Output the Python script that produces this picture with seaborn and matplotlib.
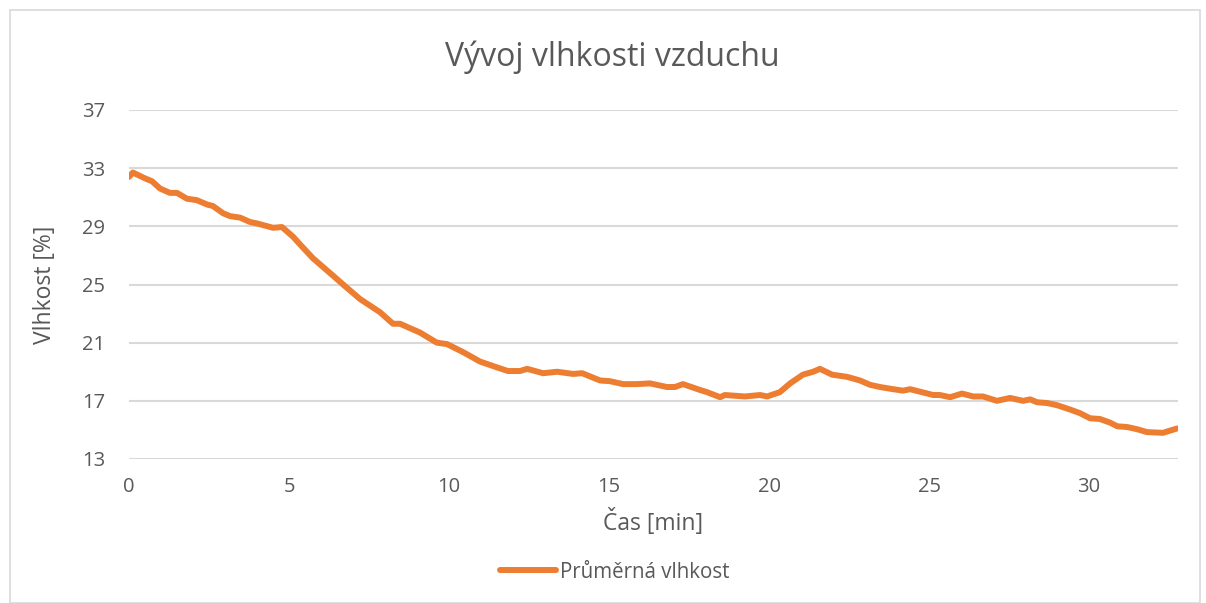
import matplotlib
matplotlib.use("Agg")
import matplotlib.pyplot as plt
import seaborn as sns
import pandas as pd
from matplotlib.patches import Rectangle

time_min = [0.0, 0.12, 0.5, 0.72, 0.97, 1.28, 1.5, 1.81, 2.12, 2.44, 2.62, 2.94, 3.16, 3.47,
            3.78, 4.0, 4.5, 4.78, 5.12, 5.41, 5.75, 6.38, 6.69, 7.22, 7.84, 8.25, 8.47, 8.88,
            9.09, 9.62, 9.94, 10.44, 10.97, 11.5, 11.84, 12.22, 12.44, 12.94, 13.38, 13.88,
            14.16, 14.72, 15.03, 15.44, 15.88, 16.28, 16.81, 17.06, 17.31, 17.84, 18.06,
            18.47, 18.62, 19.25, 19.72, 19.94, 20.34, 20.66, 21.06, 21.38, 21.59, 21.97,
            22.44, 22.84, 23.16, 23.47, 23.88, 24.19, 24.41, 25.13, 25.34, 25.66, 26.03,
            26.38, 26.69, 27.12, 27.53, 27.94, 28.16, 28.38, 28.69, 29.0, 29.41, 29.72,
            30.03, 30.34, 30.66, 30.88, 31.19, 31.5, 31.81, 32.31, 32.75]
humidity = [32.4, 32.7, 32.3, 32.1, 31.6, 31.3, 31.3, 30.9, 30.8, 30.5, 30.4, 29.9, 29.7, 29.6,
            29.3, 29.2, 28.9, 28.95, 28.3, 27.6, 26.8, 25.6, 25.0, 24.0, 23.1, 22.3, 22.3, 21.9,
            21.7, 21.0, 20.9, 20.35, 19.7, 19.3, 19.05, 19.05, 19.2, 18.9, 19.0, 18.85,
            18.9, 18.4, 18.35, 18.15, 18.15, 18.2, 17.95, 17.95, 18.15, 17.75, 17.6,
            17.25, 17.4, 17.3, 17.4, 17.3, 17.6, 18.2, 18.8, 19.0, 19.2, 18.8,
            18.65, 18.4, 18.1, 17.95, 17.8, 17.7, 17.8, 17.4, 17.4, 17.25, 17.5,
            17.3, 17.3, 17.0, 17.2, 17.0, 17.1, 16.9, 16.85, 16.7, 16.4, 16.15,
            15.8, 15.75, 15.5, 15.25, 15.2, 15.05, 14.85, 14.8, 15.1]
x_ticks = [0, 5, 10, 15, 20, 25, 30]
y_ticks = [13, 17, 21, 25, 29, 33, 37]

title = "Vývoj vlhkosti vzduchu"
x_label = "Čas [min]"
y_label = "Vlhkost [%]"
series_name = "Průměrná vlhkost"

df = pd.DataFrame({"t": time_min, "h": humidity})

sns.set_theme(style="white")
plt.rcParams["font.family"] = ["Open Sans", "DejaVu Sans"]

txt = "#595959"
orange = "#ED7D31"
grid = "#D9D9D9"

W, H = 1206, 603
fig = plt.figure(figsize=(W / 100, H / 100), dpi=100)
ax = fig.add_axes([129 / W, 1 - 459 / H, (1178 - 129) / W, (459 - 110) / H])

sns.lineplot(data=df, x="t", y="h", ax=ax, color=orange, linewidth=4.3,
             label=series_name, solid_capstyle="round", solid_joinstyle="round")

ax.set_xlim(0, 32.78)
ax.set_ylim(13, 37)
ax.set_xticks(x_ticks)
ax.set_yticks(y_ticks)
ax.yaxis.grid(True, color=grid, linewidth=1.5)
ax.xaxis.grid(False)
ax.set_axisbelow(True)
for s in ax.spines.values():
    s.set_visible(False)
ax.tick_params(axis="both", length=0, labelsize=14.5, colors=txt)
ax.tick_params(axis="x", pad=13)
ax.tick_params(axis="y", pad=17)

ax.set_xlabel(x_label, fontsize=16.5, color=txt, va="center")
ax.xaxis.set_label_coords(0.5, (459 - 523) / 349)
ax.set_ylabel(y_label, fontsize=16.5, color=txt, va="center")
ax.yaxis.set_label_coords((45 - 129) / 1049, 0.5)

fig.text(612 / W, 1 - 57 / H, title, fontsize=23, color=txt, ha="center", va="center")

ax.get_legend().remove()
handles, labels = ax.get_legend_handles_labels()
leg = fig.legend(handles, labels, loc="center", bbox_to_anchor=(615 / W, 1 - 572 / H),
                 frameon=False, fontsize=14.8, handlelength=2.7, handletextpad=0.2)
for t in leg.get_texts():
    t.set_color(txt)

fig.patches.append(Rectangle((10 / W, 0), (1200 - 10) / W, 1 - 10 / H,
                             transform=fig.transFigure, fill=False,
                             edgecolor="#D9D9D9", linewidth=1.2))

fig.savefig("out.png", dpi=100)
